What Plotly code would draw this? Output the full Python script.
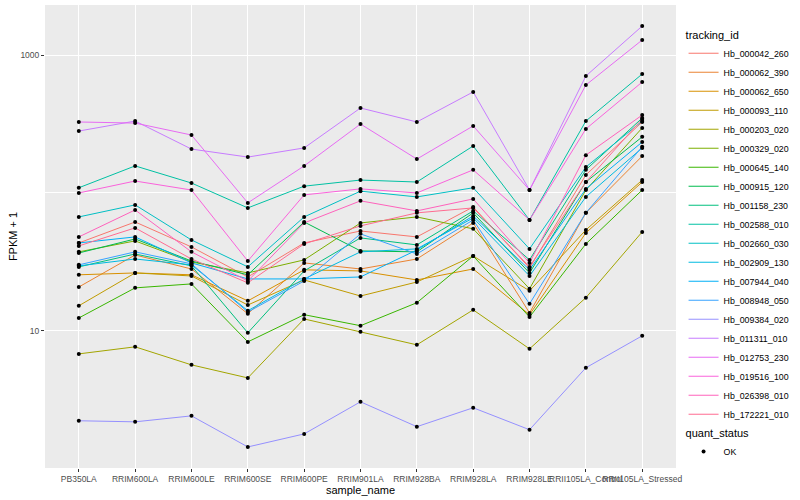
import math
import plotly.graph_objects as go

sample_names = ["PB350LA", "RRIM600LA", "RRIM600LE", "RRIM600SE", "RRIM600PE",
                "RRIM901LA", "RRIM928BA", "RRIM928LA", "RRIM928LE",
                "RRII105LA_Control", "RRII105LA_Stressed"]

tracking_ids = ["Hb_000042_260", "Hb_000062_390", "Hb_000062_650", "Hb_000093_110",
                "Hb_000203_020", "Hb_000329_020", "Hb_000645_140", "Hb_000915_120",
                "Hb_001158_230", "Hb_002588_010", "Hb_002660_030", "Hb_002909_130",
                "Hb_007944_040", "Hb_008948_050", "Hb_009384_020", "Hb_011311_010",
                "Hb_012753_230", "Hb_019516_100", "Hb_026398_010", "Hb_172221_010"]

# FPKM + 1 per sample
hb_000042_260 = [43.4, 61.6, 40.6, 24.6, 43.4, 53.0, 48.0, 79.2, 28.6, 135, 327]
hb_000062_390 = [20.8, 35.5, 28.1, 13.3, 31.1, 28.1, 33.2, 60.6, 13.5, 71.7, 185]
hb_000062_650 = [25.5, 26.3, 25.5, 16.5, 27.7, 27.2, 23.4, 28.1, 13.1, 51.3, 120]
hb_000093_110 = [15.2, 26.3, 25.0, 15.4, 23.4, 17.9, 22.6, 34.9, 19.5, 53.9, 124]
hb_000203_020 = [6.81, 7.66, 5.67, 4.56, 12.2, 9.84, 7.92, 14.2, 7.41, 17.4, 52.2]
hb_000329_020 = [37.4, 44.9, 31.6, 26.3, 32.7, 60.6, 67.0, 54.9, 20.2, 105, 296]
hb_000645_140 = [12.4, 20.5, 21.9, 8.32, 13.1, 10.9, 16.0, 34.9, 12.6, 42.7, 105]
hb_000915_120 = [36.7, 46.4, 32.1, 25.5, 61.6, 38.0, 37.4, 71.7, 26.3, 120, 255]
hb_001158_230 = [29.1, 36.1, 29.6, 9.68, 27.2, 47.2, 42.0, 74.1, 32.7, 147, 349]
hb_002588_010 = [109, 157, 118, 77.9, 112, 124, 120, 219, 63.7, 332, 728]
hb_002660_030 = [67.0, 81.9, 45.6, 29.1, 67.0, 103, 93.6, 109, 39.3, 154, 332]
hb_002909_130 = [29.6, 33.2, 30.1, 14.0, 23.8, 37.4, 39.3, 65.9, 25.0, 93.6, 212]
hb_007944_040 = [43.4, 48.0, 31.1, 23.8, 23.8, 24.6, 38.6, 68.1, 27.7, 107, 234]
hb_008948_050 = [30.1, 37.4, 30.6, 13.7, 23.0, 50.5, 36.1, 63.7, 15.7, 71.7, 216]
hb_009384_020 = [2.23, 2.19, 2.42, 1.44, 1.79, 3.06, 2.02, 2.77, 1.92, 5.40, 9.21]
hb_011311_010 = [281, 332, 208, 182, 212, 413, 327, 540, 105, 704, 1622]
hb_012753_230 = [327, 321, 263, 84.7, 157, 316, 176, 306, 105, 606, 1285]
hb_019516_100 = [100, 122, 105, 32.1, 96.8, 107, 100, 147, 63.7, 291, 637]
hb_026398_010 = [48.0, 75.3, 37.4, 23.0, 60.6, 87.6, 74.1, 90.5, 31.1, 188, 367]
hb_172221_010 = [41.3, 55.8, 33.2, 22.3, 42.7, 57.7, 71.7, 77.9, 29.1, 120, 344]

series = [hb_000042_260, hb_000062_390, hb_000062_650, hb_000093_110, hb_000203_020,
          hb_000329_020, hb_000645_140, hb_000915_120, hb_001158_230, hb_002588_010,
          hb_002660_030, hb_002909_130, hb_007944_040, hb_008948_050, hb_009384_020,
          hb_011311_010, hb_012753_230, hb_019516_100, hb_026398_010, hb_172221_010]

quant_status = "OK"

colors = ["#F8766D", "#EA8331", "#D89000", "#C09B00", "#A3A500", "#7CAE00", "#39B600",
          "#00BB4E", "#00BF7D", "#00C1A3", "#00BFC4", "#00BAE0", "#00B0F6", "#35A2FF",
          "#9590FF", "#C77CFF", "#E76BF3", "#FA62DB", "#FF62BC", "#FF6C91"]

FONT = "Liberation Sans, Arial, sans-serif"

fig = go.Figure()
for tid, vals, col in zip(tracking_ids, series, colors):
    fig.add_trace(go.Scatter(
        x=sample_names, y=vals, mode="lines", name=tid,
        line=dict(color=col, width=1), legend="legend", hoverinfo="skip"))

all_x = [s for vals in series for s in sample_names]
all_y = [v for vals in series for v in vals]
fig.add_trace(go.Scatter(
    x=all_x, y=all_y, mode="markers", name=quant_status,
    marker=dict(color="black", size=4), legend="legend2"))

lo = math.log10(min(all_y))
hi = math.log10(max(all_y))
pad = 0.05 * (hi - lo)

fig.update_layout(
    width=800, height=500,
    margin=dict(l=45, r=116, t=5, b=32),
    paper_bgcolor="white", plot_bgcolor="#EBEBEB",
    font=dict(family=FONT, color="black"),
    legend=dict(
        title=dict(text="tracking_id", font=dict(size=11, color="black")),
        font=dict(size=8.8, color="black"),
        x=1.012, xanchor="left", y=0.958, yanchor="top",
        bgcolor="rgba(0,0,0,0)", itemwidth=30),
    legend2=dict(
        title=dict(text="quant_status", font=dict(size=11, color="black")),
        font=dict(size=8.8, color="black"),
        x=1.012, xanchor="left", y=0.098, yanchor="top",
        bgcolor="rgba(0,0,0,0)", itemwidth=30),
)

fig.update_xaxes(
    type="category", categoryorder="array", categoryarray=sample_names,
    range=[-0.6, len(sample_names) - 0.4],
    tickmode="array", tickvals=sample_names, tickangle=0,
    showgrid=True, gridcolor="white", gridwidth=1.1,
    ticks="outside", ticklen=3, tickcolor="#333333", tickwidth=1,
    tickfont=dict(size=8.5, color="#4D4D4D", family=FONT),
    title=dict(text="sample_name", font=dict(size=11, color="black"), standoff=3),
    zeroline=False, showline=False)

fig.update_yaxes(
    type="log", range=[lo - pad, hi + pad],
    tickmode="array", tickvals=[10, 1000], ticktext=["10", "1000"],
    showgrid=True, gridcolor="white", gridwidth=1.1,
    minor=dict(tickmode="array", tickvals=[1, 100, 10000], showgrid=True,
               gridcolor="white", gridwidth=0.55, ticks=""),
    ticks="outside", ticklen=3, tickcolor="#333333", tickwidth=1,
    tickfont=dict(size=8.5, color="#4D4D4D", family=FONT),
    title=dict(text="FPKM + 1", font=dict(size=11, color="black"), standoff=0),
    zeroline=False, showline=False)

fig.write_html("out.html", config={"displayModeBar": False},
               post_script="document.body.style.margin='0';document.body.style.padding='0';")
